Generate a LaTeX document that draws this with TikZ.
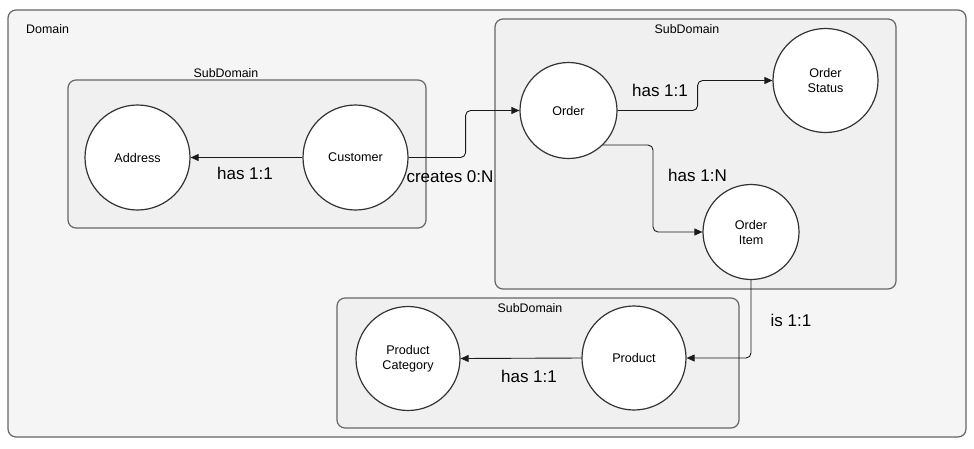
\documentclass[tikz,border=0pt]{standalone}
\usepackage{fontspec}
\setmainfont{Liberation Sans}
\usetikzlibrary{shapes.geometric,arrows.meta}
\definecolor{domfill}{HTML}{F5F5F5}
\definecolor{subfill}{HTML}{F0F0F0}
\definecolor{boxline}{HTML}{666666}
\definecolor{circline}{HTML}{333333}
\definecolor{edgeline}{HTML}{1A1A1A}
\tikzset{
  domainbox/.style={draw=boxline, fill=domfill, line width=1.2pt, rounded corners=8pt},
  subbox/.style={draw=boxline, fill=subfill, line width=1.2pt, rounded corners=8pt},
  entity/.style={ellipse, draw=circline, fill=white, line width=1.2pt, inner sep=0pt,
    align=center, font=\fontsize{12.6}{15}\selectfont},
  boxlabel/.style={font=\fontsize{12.4}{14}\selectfont, inner sep=0pt},
  rellabel/.style={font=\fontsize{17}{19}\selectfont, inner sep=0pt},
  rel/.style={draw=edgeline, line width=0.9pt, rounded corners=5pt,
    -{Triangle[length=8pt,width=7pt]}},
}
\begin{document}
\begin{tikzpicture}[x=1pt,y=-1pt]
\useasboundingbox (0,0) rectangle (974,448);
% containers
\draw[domainbox] (8,10) rectangle (966,437);
\node[boxlabel, anchor=west] (domlbl) at (26,29) {Domain};
\draw[subbox] (68,80) rectangle (426,228);
\node[boxlabel] (sub1lbl) at (226,73) {SubDomain};
\draw[subbox] (495,19) rectangle (896,289);
\node[boxlabel] (sub2lbl) at (687,29) {SubDomain};
\draw[subbox] (337,298) rectangle (739,428);
\node[boxlabel] (sub3lbl) at (530,308) {SubDomain};
% entities
\node[entity, minimum width=105pt, minimum height=105pt] (addr) at (137.5,157.5) {Address};
\node[entity, minimum width=105pt, minimum height=105pt] (cust) at (355.5,157.5) {Customer};
\node[entity, minimum width=97pt, minimum height=96pt] (order) at (568.5,110.5) {Order};
\node[entity, minimum width=105pt, minimum height=104pt] (status) at (825.5,80.5) {Order\\Status};
\node[entity, minimum width=96pt, minimum height=95pt] (item) at (751,232) {Order\\Item};
\node[entity, minimum width=104pt, minimum height=104pt] (prod) at (634,358) {Product};
\node[entity, minimum width=104pt, minimum height=104pt] (cat) at (408,358.5) {Product\\Category};
% relations
\draw[rel] (cust.west) -- (addr.east);
\draw[rel] (cust.east) -- ++(57,0) |- (order.west);
\draw[rel] (order.east) -- ++(80,0) |- (status.west);
\draw[rel] (order.-45) -- ++(50,0) |- (item.west);
\draw[rel] (item.south) |- (prod.east);
\draw[rel] (prod.west) -- (cat.east);
% labels
\node[rellabel] (l1) at (245,173) {has 1:1};
\node[rellabel] (l2) at (450,177) {creates 0:N};
\node[rellabel] (l3) at (660,90.5) {has 1:1};
\node[rellabel] (l4) at (697.5,175.5) {has 1:N};
\node[rellabel] (l5) at (791,320) {is 1:1};
\node[rellabel] (l6) at (529,376.5) {has 1:1};
\end{tikzpicture}
\end{document}
